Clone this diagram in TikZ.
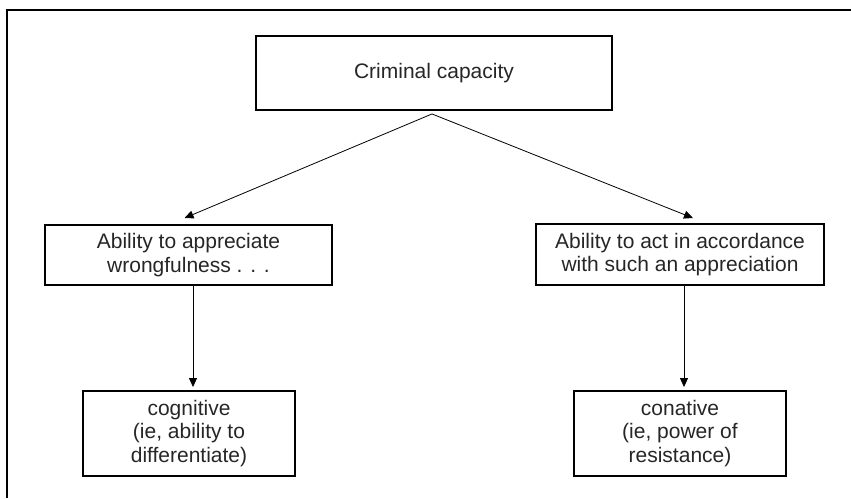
\documentclass[tikz,border=0pt]{standalone}
\usepackage{fontspec}
\setmainfont{Liberation Sans}
\usetikzlibrary{arrows.meta}
\begin{document}
\begin{tikzpicture}[x=1pt,y=-1pt,
  box/.style={draw=black,line width=1.9pt,rectangle,align=center,inner sep=0pt,
    font=\fontsize{21}{23.5}\selectfont,text=black!85},
  conn/.style={draw=black,line width=0.8pt,-{Triangle[length=9pt,width=8pt]}},
  frameline/.style={draw=black,line width=2pt}]
\useasboundingbox (0,0) rectangle (851,498);
\draw[frameline] (7,498) -- (7,10) -- (851,10);
\node[box,minimum width=356pt,minimum height=74pt] (top) at (434,73) {Criminal capacity};
\node[box,minimum width=287pt,minimum height=60pt] (lm) at (188.5,255) {Ability to appreciate\\wrongfulness . . .};
\node[box,minimum width=288pt,minimum height=61pt] (rm) at (680,254.5) {Ability to act in accordance\\with such an appreciation};
\node[box,minimum width=212pt,minimum height=85pt] (lb) at (189,433.5) {cognitive\\(ie, ability to\\differentiate)};
\node[box,minimum width=212pt,minimum height=85pt] (rb) at (680,433.5) {conative\\(ie, power of\\resistance)};
\draw[conn] ([xshift=-2pt,yshift=-3pt]top.south) -- ([xshift=-4pt,yshift=6pt]lm.north);
\draw[conn] ([xshift=-2pt,yshift=-3pt]top.south) -- ([xshift=13pt,yshift=5pt]rm.north);
\draw[conn] ([xshift=4.5pt]lm.south) -- ([xshift=4pt,yshift=3pt]lb.north);
\draw[conn] ([xshift=4pt]rm.south) -- ([xshift=4pt,yshift=3pt]rb.north);
\end{tikzpicture}
\end{document}
